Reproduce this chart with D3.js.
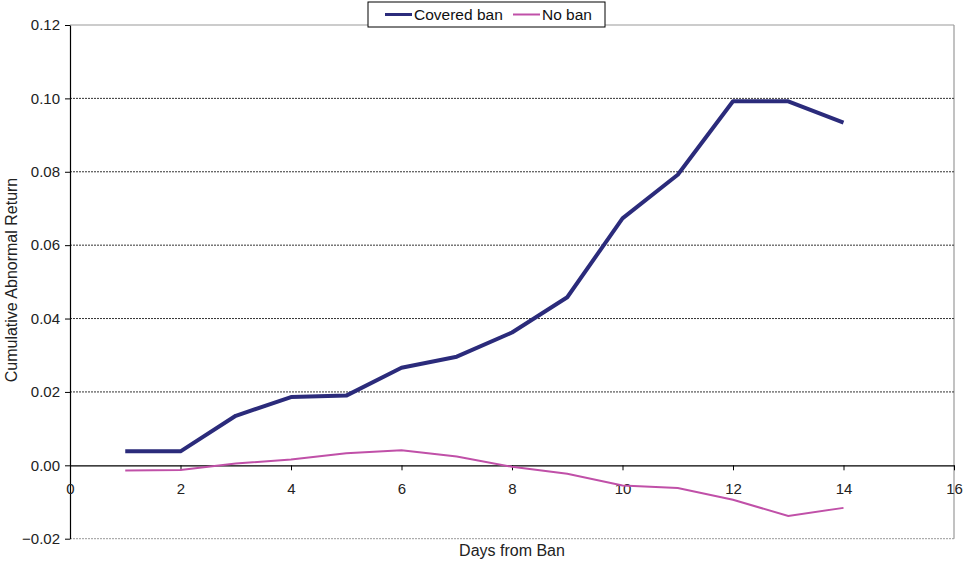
<!DOCTYPE html>
<html><head><meta charset="utf-8">
<script src="https://cdn.jsdelivr.net/npm/d3@7"></script>
<style>body{margin:0;background:#fff}svg{display:block;font-family:"Liberation Sans",Arial,sans-serif}</style>
</head><body><svg id="c" width="968" height="566"></svg>
<script>
const days = [1,2,3,4,5,6,7,8,9,10,11,12,13,14];
const coveredBan = [0.0038,0.0038,0.0135,0.0186,0.0190,0.0266,0.0296,0.0362,0.0458,0.0673,0.0792,0.0992,0.0992,0.0934];
const noBan = [-0.0014,-0.0013,0.0005,0.0016,0.0033,0.0041,0.0024,-0.0004,-0.0023,-0.0055,-0.0062,-0.0094,-0.0138,-0.0116];
const xTicks = [0,2,4,6,8,10,12,14,16];
const yTicks = [-0.02,0,0.02,0.04,0.06,0.08,0.10,0.12];
const seriesNames = ["Covered ban","No ban"];
const colors = ["#2b2b7b","#c050a8"];

const svg = d3.select("#c");
const L=70,R=954,T=25,B=538.7;
const x = d3.scaleLinear().domain([0,16]).range([L,R]);
const y = d3.scaleLinear().domain([-0.02,0.12]).range([B,T]);

// frame
svg.append("line").attr("x1",L).attr("x2",R).attr("y1",T).attr("y2",T).attr("stroke","#999").attr("stroke-width",1.2);
svg.append("line").attr("x1",R).attr("x2",R).attr("y1",T).attr("y2",B).attr("stroke","#999").attr("stroke-width",1.2);
// gridlines
yTicks.filter(v=>v!==0 && v!==0.12).forEach(v=>{
  svg.append("line").attr("x1",L).attr("x2",R).attr("y1",y(v)).attr("y2",y(v))
    .attr("stroke", v===-0.02 ? "#999" : "#333").attr("stroke-width",1).attr("stroke-dasharray","2,1");
});
// y axis
const ya = svg.append("g").attr("transform",`translate(${L},0)`)
  .call(d3.axisLeft(y).tickValues(yTicks).tickFormat(d3.format(".2f")).tickSize(5).tickSizeOuter(0));
ya.select(".domain").attr("stroke","#000").attr("stroke-width",1.2);
ya.selectAll(".tick text").attr("font-size",15).attr("fill","#222").attr("x",-10);
ya.selectAll(".tick line").attr("stroke","#000");
// x axis at zero
const xa = svg.append("g").attr("transform",`translate(0,${y(0)})`)
  .call(d3.axisBottom(x).tickValues(xTicks).tickFormat(d3.format("d")).tickSize(5).tickSizeOuter(0));
xa.select(".domain").attr("stroke","#000").attr("stroke-width",1.2);
xa.selectAll(".tick text").attr("font-size",15).attr("fill","#222").attr("y",18);
xa.selectAll(".tick line").attr("stroke","#000");

// lines
const line = d3.line().x((d,i)=>x(days[i])).y(d=>y(d));
svg.append("path").datum(noBan).attr("d",line).attr("fill","none").attr("stroke",colors[1]).attr("stroke-width",2);
svg.append("path").datum(coveredBan).attr("d",line).attr("fill","none").attr("stroke",colors[0]).attr("stroke-width",4).attr("stroke-linejoin","round");

// axis titles
svg.append("text").attr("x",512).attr("y",556).attr("text-anchor","middle").attr("font-size",16).attr("fill","#222").text("Days from Ban");
svg.append("text").attr("transform","translate(17,280) rotate(-90)").attr("text-anchor","middle").attr("font-size",16).attr("fill","#222").text("Cumulative Abnormal Return");

// legend
const lg = svg.append("g");
lg.append("rect").attr("x",368).attr("y",2).attr("width",237).attr("height",25).attr("fill","#fff").attr("stroke","#000").attr("stroke-width",1);
const lx=[385,513];
seriesNames.forEach((n,i)=>{
  lg.append("line").attr("x1",lx[i]).attr("x2",lx[i]+27).attr("y1",14.5).attr("y2",14.5).attr("stroke",colors[i]).attr("stroke-width",i===0?3:2);
  lg.append("text").attr("x",lx[i]+29).attr("y",20).attr("font-size",15.5).attr("fill","#111").text(n);
});
</script></body></html>
